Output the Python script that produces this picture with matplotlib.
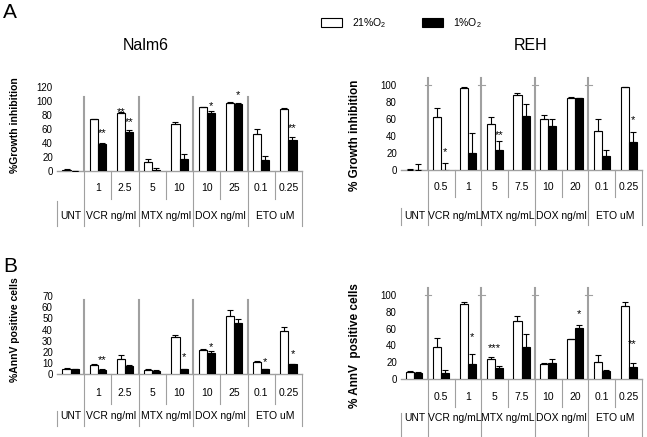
import matplotlib
matplotlib.use('Agg')
import matplotlib.pyplot as plt
import numpy as np

plt.rcParams['font.family'] = ['Liberation Sans', 'DejaVu Sans']
plt.rcParams['mathtext.fontset'] = 'custom'
plt.rcParams['mathtext.rm'] = 'Liberation Sans'
plt.rcParams['mathtext.default'] = 'regular'

# categories
groups_nalm6 = ['UNT', 'VCR ng/ml', 'MTX ng/ml', 'DOX ng/ml', 'ETO uM']
groups_reh = ['UNT', 'VCR ng/mL', 'MTX ng/mL', 'DOX ng/ml', 'ETO uM']
group_spans = [(0, 1), (1, 3), (3, 5), (5, 7), (7, 9)]
doses_nalm6 = ['', '1', '2.5', '5', '10', '10', '25', '0.1', '0.25']
doses_reh = ['', '0.5', '1', '5', '7.5', '10', '20', '0.1', '0.25']

# A - growth inhibition, Nalm6
nalm6_gi_21 = [1.5, 73.5, 83, 12, 67.5, 91, 97.5, 53, 89]
nalm6_gi_21_err = [0.5, 0.5, 1.5, 5, 2.5, 0.5, 0.5, 7, 1.5]
nalm6_gi_1 = [-1, 38.5, 55.5, 1, 16.5, 83, 96, 15, 44]
nalm6_gi_1_err = [0.5, 0.5, 2.5, 3, 7.5, 2, 0.5, 6.5, 4.5]
nalm6_gi_stars = [(1, 1, '**', 54), (2, 0, '**', 84), (2, 1, '**', 69),
                  (5, 1, '*', 93), (6, 1, '*', 109), (8, 1, '**', 61)]

# A - growth inhibition, REH
reh_gi_21 = [0.5, 62.5, 96.5, 54.5, 88, 60.5, 85, 46, 97.5]
reh_gi_21_err = [0.5, 10, 1, 8, 3, 4, 1, 14, 0.5]
reh_gi_1 = [0, -1, 20, 24, 63, 52, 84.5, 17, 33]
reh_gi_1_err = [7.5, 9, 23, 10, 15, 7.5, 0.5, 6, 12]
reh_gi_stars = [(1, 1, '*', 21), (3, 1, '**', 41), (8, 1, '*', 59)]

# B - AnnV positive, Nalm6
nalm6_ann_21 = [4.5, 8.5, 13.7, 4, 33, 21.7, 52.4, 11.3, 38.7]
nalm6_ann_21_err = [1, 0.5, 3.6, 0.5, 2, 1.3, 5, 0.7, 3.6]
nalm6_ann_1 = [4.5, 4, 7.7, 3.3, 4.5, 18.8, 46, 4.5, 9.2]
nalm6_ann_1_err = [0.5, 0.3, 0.3, 0.3, 0.3, 2, 3.4, 0.3, 0.3]
nalm6_ann_stars = [(1, 1, '**', 12.4), (4, 1, '*', 15.4), (5, 1, '*', 24.6),
                   (7, 1, '*', 11.2), (8, 1, '*', 18.4)]

# B - AnnV positive, REH
reh_ann_21 = [7.9, 38.5, 88.9, 23.8, 69.4, 17.9, 47.2, 20.6, 87.3]
reh_ann_21_err = [2, 10, 2.4, 2.8, 5.6, 0.8, 1, 8, 4]
reh_ann_1 = [7.5, 7.5, 17.9, 12.7, 38.5, 19.4, 60.3, 9.9, 13.9]
reh_ann_1_err = [1, 3.2, 12, 2.8, 14.7, 4, 4, 0.8, 5.5]
reh_ann_stars = [(2, 1, '*', 50.4), (3, 0.5, '***', 37.3), (6, 1, '*', 77.4),
                 (8, 1, '**', 41.7)]

W, H = 647, 437
GRAY = '#a0a0a0'
BW = 0.3

fig = plt.figure(figsize=(W / 100, H / 100), dpi=100)


def draw_panel(rect, v21, e21, v1, e1, stars, doses, groups, ylim, yticks,
               ylabel, lab_xy, lab_size, lay):
    ax = fig.add_axes([rect[0] / W, 1 - (rect[1] + rect[3]) / H, rect[2] / W, rect[3] / H])
    x = np.arange(len(v21))
    b21 = ax.bar(x - BW / 2, v21, BW, color='white', edgecolor='black', linewidth=0.8, zorder=3)
    b1 = ax.bar(x + BW / 2, v1, BW, color='black', edgecolor='black', linewidth=0.8, zorder=3)
    ax.errorbar(x - BW / 2, v21, yerr=[np.zeros(len(e21)), e21], fmt='none', ecolor='black',
                elinewidth=0.8, capsize=2.2, capthick=0.8, zorder=4)
    ax.errorbar(x + BW / 2, v1, yerr=[np.zeros(len(e1)), e1], fmt='none', ecolor='black',
                elinewidth=0.8, capsize=2.2, capthick=0.8, zorder=4)
    for c, s, t, y in stars:
        ax.text(c + (s - 0.5) * BW, y, t, ha='center', va='center', fontsize=8)

    ax.set_xlim(-0.5, len(v21) - 0.5)
    ax.set_ylim(*ylim)
    ax.set_yticks(yticks)
    ax.tick_params(axis='y', length=0, labelsize=7, pad=3)
    ax.set_xticks([])
    for sp in ['top', 'right', 'left']:
        ax.spines[sp].set_visible(False)
    ax.spines['bottom'].set_color(GRAY)
    ax.spines['bottom'].set_linewidth(1)
    ax.set_ylabel(ylabel, fontsize=lab_size, fontweight='bold')
    ax.yaxis.set_label_coords(*lab_xy)

    # px below the x axis -> axes fraction
    f = lambda px: -px / rect[3]
    tr = ax.get_xaxis_transform()
    # separators of the groups inside the plot
    for g0, g1 in group_spans[1:]:
        ax.plot([g0 - 0.5, g0 - 0.5], [0, lay['sep_top']], transform=tr, color=GRAY,
                lw=1.5, clip_on=False, zorder=1)
        if lay['sep_top'] > 1:
            ax.plot([g0 - 0.62, g0 - 0.38], [1, 1], transform=tr, color=GRAY, lw=0.8,
                    clip_on=False)
    # table under the axis
    for i, d in enumerate(doses):
        ax.text(i, f(lay['dose_y']), d, transform=tr, ha='center', va='center', fontsize=7.5)
    for (g0, g1), name in zip(group_spans, groups):
        ax.text((g0 + g1 - 1) / 2, f(lay['group_y']), name, transform=tr, ha='center',
                va='center', fontsize=7.5)
        for k in range(g0 + 1, g1):
            ax.plot([k - 0.5, k - 0.5], [0, f(lay['dose_line'])], transform=tr, color=GRAY,
                    lw=0.8, clip_on=False)
        ax.plot([g1 - 0.5, g1 - 0.5], [0, f(lay['bottom'])], transform=tr, color=GRAY,
                lw=0.8, clip_on=False)
    ax.plot([-0.5, -0.5], [f(lay['unt_top']), f(lay['bottom'])], transform=tr, color=GRAY,
            lw=0.8, clip_on=False)
    return b21, b1


h21, h1 = draw_panel((57, 87, 245, 83.7), nalm6_gi_21, nalm6_gi_21_err, nalm6_gi_1,
                     nalm6_gi_1_err, nalm6_gi_stars, doses_nalm6, groups_nalm6,
                     (0, 120), range(0, 121, 20), '%Growth inhibition', (-0.15, 0.55), 7.5,
                     dict(dose_y=17, dose_line=28, group_y=45, bottom=55, unt_top=30,
                          sep_top=0.885))
draw_panel((401, 85, 241, 85), reh_gi_21, reh_gi_21_err, reh_gi_1, reh_gi_1_err,
           reh_gi_stars, doses_reh, groups_reh, (0, 100), range(0, 101, 20),
           '% Growth inhibition', (-0.165, 0.41), 8.5,
           dict(dose_y=17, dose_line=27, group_y=46, bottom=55, unt_top=38, sep_top=1.08))
draw_panel((57, 296, 245, 78.3), nalm6_ann_21, nalm6_ann_21_err, nalm6_ann_1,
           nalm6_ann_1_err, nalm6_ann_stars, doses_nalm6, groups_nalm6, (0, 70),
           range(0, 71, 10), '%AnnV positive cells', (-0.15, 0.57), 7.5,
           dict(dose_y=19, dose_line=30, group_y=42, bottom=52, unt_top=37, sep_top=0.95))
draw_panel((401, 295, 241, 84), reh_ann_21, reh_ann_21_err, reh_ann_1, reh_ann_1_err,
           reh_ann_stars, doses_reh, groups_reh, (0, 100), range(0, 101, 20),
           '% AnnV  positive cells', (-0.165, 0.40), 8.5,
           dict(dose_y=18, dose_line=28, group_y=39, bottom=57, unt_top=34, sep_top=1.08))

fig.text(3 / W, 1 - 12.5 / H, 'A', fontsize=15, va='center')
fig.text(3 / W, 1 - 266 / H, 'B', fontsize=15, va='center')
fig.text(146 / W, 1 - 46 / H, 'Nalm6', fontsize=11.5, ha='center', va='center')
fig.text(531 / W, 1 - 46 / H, 'REH', fontsize=11.5, ha='center', va='center')

fig.legend([h21, h1], ['21%O$_2$', '1%O$_2$'], ncol=2, loc='center left',
           bbox_to_anchor=(321 / W, 1 - 23 / H), frameon=False, fontsize=7.5,
           handlelength=2.0, handleheight=1.0, handletextpad=1.0, columnspacing=3.4,
           borderpad=0, borderaxespad=0)

fig.savefig('out.png', dpi=100)
